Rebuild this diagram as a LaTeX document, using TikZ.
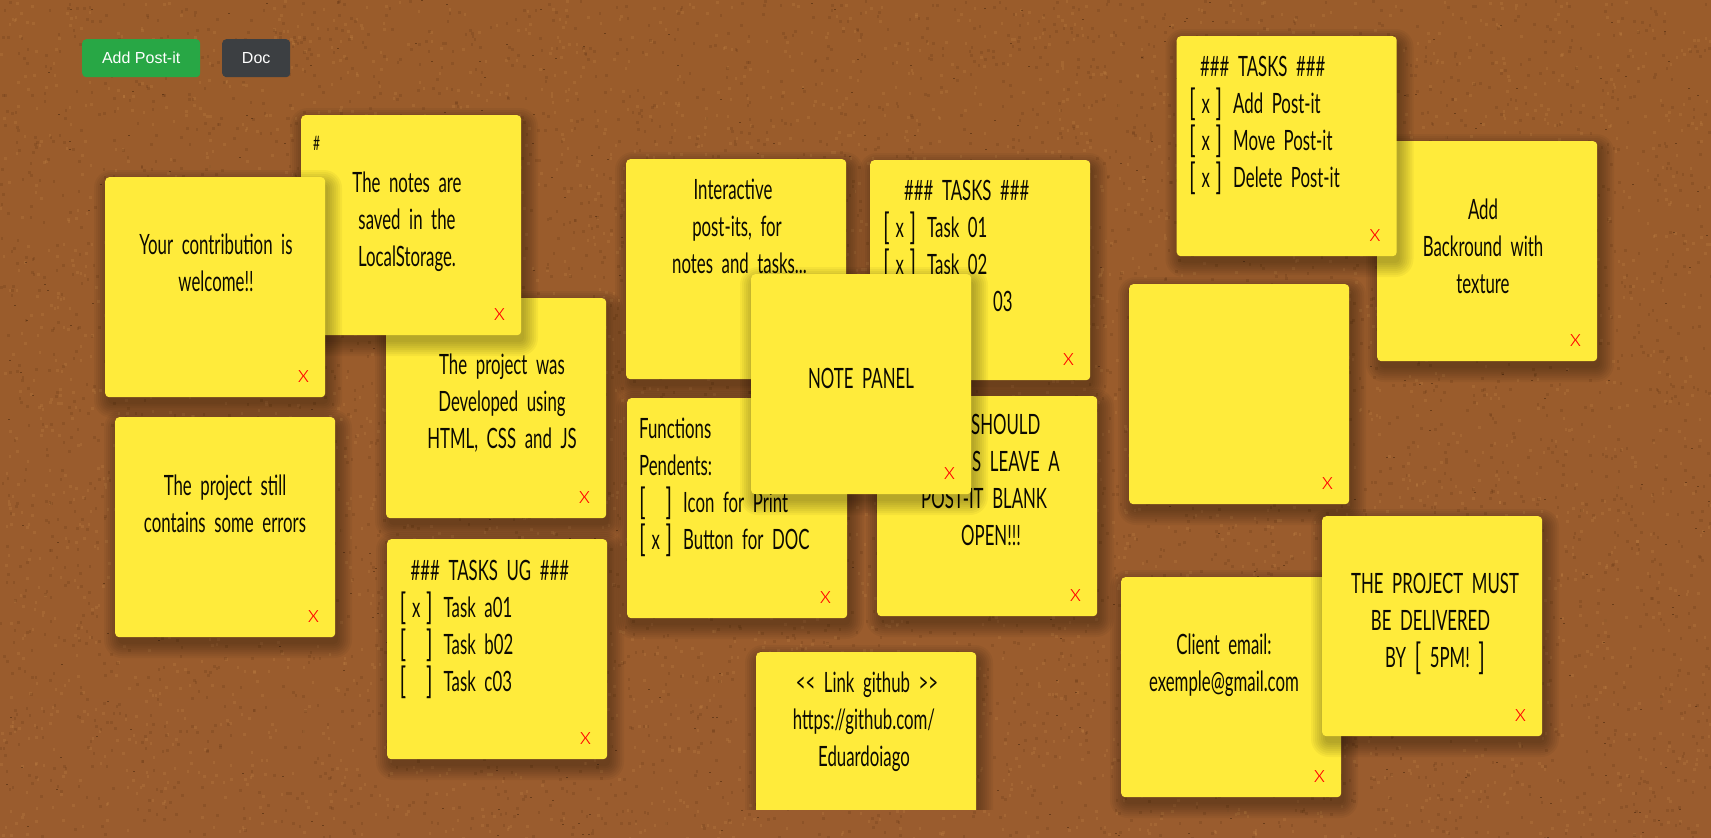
\documentclass[tikz,border=0pt]{standalone}
\usepackage{fontspec}
\setmainfont{Liberation Sans}
\newfontfamily\hand{Lato}[FakeStretch=0.60,WordSpace=2.0]
\newfontfamily\thinx{Lato}[UprightFont=* Light]
\definecolor{corktop}{HTML}{9A5C2B}
\definecolor{corkmid}{HTML}{AC6C31}
\definecolor{corkbot}{HTML}{9A5C2E}
\definecolor{corkA}{HTML}{CB8C4A}
\definecolor{corkB}{HTML}{5A2F12}
\definecolor{corkC}{HTML}{3F2109}
\definecolor{noteyellow}{HTML}{FFEB3B}
\definecolor{ink}{HTML}{0C0A02}
\definecolor{btngreen}{HTML}{28A745}
\definecolor{btndark}{HTML}{3C3F42}
\tikzset{
  notebody/.style={fill=noteyellow,rounded corners=4pt,minimum width=220pt,minimum height=220pt,inner sep=0pt,anchor=north west},
  closex/.style={text=red,font=\thinx\fontsize{24}{24}\selectfont,inner sep=0pt},
  scribble/.style={text=ink,inner sep=0pt,anchor=north,align=center,font=\hand\fontsize{28}{37}\selectfont},
  scribbleleft/.style={scribble,anchor=north west,align=left},
  btn/.style={text=white,rounded corners=4pt,inner sep=0pt,minimum height=38pt,font=\fontsize{16}{16}\selectfont,anchor=north west}
}
\newcommand\postit[3]{%
  \foreach \sp in {14,12,10,8,6,4,2,0}{%
    \fill[black,opacity=.04,rounded corners=\sp pt+4pt] (#2+3-\sp,#3+7-\sp) rectangle (#2+223+\sp,#3+227+\sp);}%
  \node[notebody] (#1) at (#2,#3) {};}
\newcommand\delx[1]{\path (#1.north west) ++(198.5,200) node[closex] (#1-x) {x};}
\newcommand\say[5]{\node[#4] (#1) at (#2,#3-24.4) {\strut #5};}
\newcommand\tallb[1]{\raisebox{-2pt}{\fontsize{36}{36}\selectfont #1}}
\newcommand\cb[1]{\makebox[44pt][l]{\makebox[33pt]{\tallb{[}\hfill #1\hfill\tallb{]}}}}
\newcommand\specks[3]{\foreach \i in {1,...,#1}{\pgfmathsetmacro\cx{int(rnd*1711)}\pgfmathsetmacro\cy{int(rnd*838)}\fill (\cx,\cy) rectangle ++(#2,#3);}}
\begin{document}
\begin{tikzpicture}[x=1pt,y=-1pt]
\useasboundingbox (0,0) rectangle (1711,838);
\shade[top color=corktop,middle color=corkmid,bottom color=corkbot] (0,0) rectangle (1711,838);
\pgfmathsetseed{11}
\begin{scope}[corkA,opacity=.22]\specks{2500}{3}{3}\specks{2000}{2}{3}\end{scope}
\begin{scope}[corkB,opacity=.2]\specks{3000}{3}{3}\specks{2000}{2}{3}\end{scope}
\begin{scope}[corkC,opacity=.5]\specks{500}{2}{1}\end{scope}

\node[btn,fill=btngreen,minimum width=118pt] (addbtn) at (82,39) {Add Post-it};
\node[btn,fill=btndark,minimum width=68pt] (docbtn) at (222,39) {Doc};

\postit{ug}{387}{539}\delx{ug}
\say{ugt}{399.5}{578.6}{scribbleleft}{\hspace*{11pt}\#\#\# TASKS UG \#\#\#\\\cb{x}Task a01\\\cb{\ }Task b02\\\cb{\ }Task c03}
\postit{was}{386}{298}\delx{was}
\say{wast}{502}{373}{scribble}{The project was\\Developed using\hspace*{14pt}\\HTML, CSS and JS}
\postit{saved}{301}{115}\delx{saved}
\node[scribbleleft,font=\hand\fontsize{20}{20}\selectfont] (hash) at (313,136) {\#};
\say{savedt}{407}{190.5}{scribble}{The notes are\\saved in the\\LocalStorage.}
\postit{contrib}{105}{177}\delx{contrib}
\say{contribt}{216}{252.5}{scribble}{Your contribution is\\welcome!!}
\postit{errors}{115}{417}\delx{errors}
\say{errorst}{225}{494}{scribble}{The project still\\contains some errors}
\postit{inter}{626}{159}\delx{inter}
\say{intert}{737}{198}{scribble}{Interactive\hspace*{8pt}\\post-its, for\\\hspace*{5pt}notes and tasks...}
\postit{tasks}{870}{160}\delx{tasks}
\say{taskst}{883}{199}{scribbleleft}{\hspace*{21pt}\#\#\# TASKS \#\#\#\\\cb{x}Task 01\\\cb{x}Task 02\\\hspace*{110pt}03}
\postit{funcs}{627}{398}\delx{funcs}
\say{funcst}{639}{436.5}{scribbleleft}{Functions\\Pendents:\\\cb{\ }Icon for Print\\\cb{x}Button for DOC}
\postit{blank}{877}{396}\delx{blank}
\say{blankt}{921}{433}{scribbleleft}{\hspace*{50pt}SHOULD\\\hspace*{51pt}S LEAVE A\\POST-IT BLANK\\\hspace*{40pt}OPEN!!!}
\begin{scope}
\clip (0,0) rectangle (1711,809);
\postit{link}{756}{652}
\end{scope}
\say{linkt}{864}{691}{scribble}{\hspace*{6pt}<{}< Link github >{}>\\https://github.com/\\Eduardoiago}
\postit{panel}{751}{274}\delx{panel}
\say{panelt}{861}{386.5}{scribble}{NOTE PANEL}
\postit{texture}{1377}{141}\delx{texture}
\say{texturet}{1483}{217.5}{scribble}{Add\\Backround with\\texture}
\postit{tasktop}{1176.5}{36}\delx{tasktop}
\say{tasktopt}{1189}{74.5}{scribbleleft}{\hspace*{11pt}\#\#\# TASKS \#\#\#\\\cb{x}Add Post-it\\\cb{x}Move Post-it\\\cb{x}Delete Post-it}
\postit{empty}{1129}{284}\delx{empty}
\postit{client}{1121}{577}\delx{client}
\say{clientt}{1224}{652.5}{scribble}{Client email:\\exemple@gmail.com}
\postit{must}{1322}{516}\delx{must}
\say{mustt}{1435}{591.5}{scribble}{THE PROJECT MUST\\\hspace*{-9pt}BE DELIVERED\\BY \tallb{[} 5PM! \tallb{]}}
\end{tikzpicture}
\end{document}
